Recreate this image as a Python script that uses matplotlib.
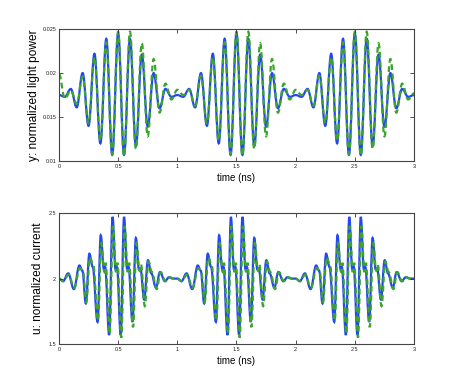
import numpy as np
import matplotlib
matplotlib.use("Agg")
import matplotlib.pyplot as plt
from matplotlib.path import Path
from matplotlib.patches import PathPatch

plt.rcParams['font.family'] = ['Liberation Sans', 'DejaVu Sans']

top_t = np.linspace(0, 3, 61)
top_blue = [
    0.0175, 0.0173, 0.0182, 0.0161, 0.0200, 0.0140, 0.0222, 0.0120, 0.0239, 0.0107,
    0.0245, 0.0107, 0.0239, 0.0117, 0.0221, 0.0139, 0.0200, 0.0160, 0.0182, 0.0173,
    0.0175, 0.0173, 0.0182, 0.0161, 0.0200, 0.0140, 0.0222, 0.0120, 0.0239, 0.0107,
    0.0245, 0.0107, 0.0239, 0.0117, 0.0221, 0.0139, 0.0200, 0.0160, 0.0182, 0.0173,
    0.0175, 0.0173, 0.0182, 0.0161, 0.0200, 0.0140, 0.0222, 0.0120, 0.0239, 0.0107,
    0.0245, 0.0107, 0.0239, 0.0117, 0.0221, 0.0139, 0.0200, 0.0160, 0.0182, 0.0173,
    0.0175,
]
top_green = [
    0.0199, 0.0171, 0.0180, 0.0165, 0.0196, 0.0143, 0.0218, 0.0123, 0.0235, 0.0108,
    0.0247, 0.0106, 0.0247, 0.0114, 0.0234, 0.0128, 0.0216, 0.0155, 0.0188, 0.0170,
    0.0181, 0.0175, 0.0181, 0.0163, 0.0197, 0.0143, 0.0218, 0.0123, 0.0235, 0.0108,
    0.0247, 0.0106, 0.0247, 0.0114, 0.0234, 0.0128, 0.0216, 0.0155, 0.0188, 0.0170,
    0.0181, 0.0175, 0.0181, 0.0163, 0.0197, 0.0143, 0.0218, 0.0123, 0.0235, 0.0108,
    0.0247, 0.0106, 0.0247, 0.0114, 0.0234, 0.0128, 0.0216, 0.0155, 0.0188, 0.0170,
    0.0177,
]

# --- bottom panel: normalized current (extrema / shoulders)
bot_blue_t = [
    0.000, 0.035, 0.078, 0.126, 0.173, 0.198, 0.227, 0.257, 0.285, 0.326, 0.353, 0.380, 0.390,
    0.424, 0.453, 0.478, 0.490, 0.522, 0.550, 0.576, 0.588, 0.621, 0.650, 0.676, 0.688, 0.720,
    0.752, 0.780, 0.820, 0.853, 0.895, 0.930, 0.965,
    1.000, 1.035, 1.078, 1.126, 1.173, 1.198, 1.227, 1.257, 1.285, 1.326, 1.353, 1.380, 1.390,
    1.424, 1.453, 1.478, 1.490, 1.522, 1.550, 1.576, 1.588, 1.621, 1.650, 1.676, 1.688, 1.720,
    1.752, 1.780, 1.820, 1.853, 1.895, 1.930, 1.965,
    2.000, 2.035, 2.078, 2.126, 2.173, 2.198, 2.227, 2.257, 2.285, 2.326, 2.353, 2.380, 2.390,
    2.424, 2.453, 2.478, 2.490, 2.522, 2.550, 2.576, 2.588, 2.621, 2.650, 2.676, 2.688, 2.720,
    2.752, 2.780, 2.820, 2.853, 2.895, 2.930, 2.965, 3.000,
]
bot_blue = [
    2.00, 1.98, 2.04, 1.92, 2.10, 2.06, 1.81, 2.19, 2.09, 1.67, 2.33, 2.07, 2.09,
    1.57, 2.47, 2.07, 2.09, 1.57, 2.47, 2.07, 2.09, 1.67, 2.31, 2.07, 2.08, 1.84,
    2.14, 2.04, 1.93, 2.05, 1.98, 2.01, 2.00,
    2.00, 1.98, 2.04, 1.92, 2.10, 2.06, 1.81, 2.19, 2.09, 1.67, 2.33, 2.07, 2.09,
    1.57, 2.47, 2.07, 2.09, 1.57, 2.47, 2.07, 2.09, 1.67, 2.31, 2.07, 2.08, 1.84,
    2.14, 2.04, 1.93, 2.05, 1.98, 2.01, 2.00,
    2.00, 1.98, 2.04, 1.92, 2.10, 2.06, 1.81, 2.19, 2.09, 1.67, 2.33, 2.07, 2.09,
    1.57, 2.47, 2.07, 2.09, 1.57, 2.47, 2.07, 2.09, 1.67, 2.31, 2.07, 2.08, 1.84,
    2.14, 2.04, 1.93, 2.05, 1.98, 2.01, 2.00, 2.00,
]
bot_green_t = [
    0.000, 0.038, 0.081, 0.129, 0.177, 0.202, 0.231, 0.261, 0.289, 0.330, 0.357, 0.384, 0.394,
    0.428, 0.457, 0.482, 0.494, 0.527, 0.555, 0.581, 0.593, 0.626, 0.655, 0.681, 0.693, 0.725,
    0.757, 0.785, 0.826, 0.858, 0.900, 0.935, 0.970,
    1.000, 1.038, 1.081, 1.129, 1.177, 1.202, 1.231, 1.261, 1.289, 1.330, 1.357, 1.384, 1.394,
    1.428, 1.457, 1.482, 1.494, 1.527, 1.555, 1.581, 1.593, 1.626, 1.655, 1.681, 1.693, 1.725,
    1.757, 1.785, 1.826, 1.858, 1.900, 1.935, 1.970,
    2.000, 2.038, 2.081, 2.129, 2.177, 2.202, 2.231, 2.261, 2.289, 2.330, 2.357, 2.384, 2.394,
    2.428, 2.457, 2.482, 2.494, 2.527, 2.555, 2.581, 2.593, 2.626, 2.655, 2.681, 2.693, 2.725,
    2.757, 2.785, 2.826, 2.858, 2.900, 2.935, 2.970, 3.000,
]
bot_green = [
    2.00, 1.98, 2.03, 1.93, 2.08, 2.06, 1.82, 2.16, 2.11, 1.68, 2.27, 2.05, 2.12,
    1.58, 2.40, 2.05, 2.12, 1.55, 2.40, 2.05, 2.12, 1.63, 2.27, 2.06, 2.11, 1.79,
    2.13, 2.05, 1.92, 2.05, 1.98, 2.01, 2.00,
    2.00, 1.98, 2.03, 1.93, 2.08, 2.06, 1.82, 2.16, 2.11, 1.68, 2.27, 2.05, 2.12,
    1.58, 2.40, 2.05, 2.12, 1.55, 2.40, 2.05, 2.12, 1.63, 2.27, 2.06, 2.11, 1.79,
    2.13, 2.05, 1.92, 2.05, 1.98, 2.01, 2.00,
    2.00, 1.98, 2.03, 1.93, 2.08, 2.06, 1.82, 2.16, 2.11, 1.68, 2.27, 2.05, 2.12,
    1.58, 2.40, 2.05, 2.12, 1.55, 2.40, 2.05, 2.12, 1.63, 2.27, 2.06, 2.11, 1.79,
    2.13, 2.05, 1.92, 2.05, 1.98, 2.01, 2.00, 2.00,
]

BLUE = '#2447f2'
GREEN = '#3aa52a'


# smooth curve through the read points (horizontal tangent at each point)
def smooth_line(ax, t, v, **kw):
    t = np.asarray(t, float)
    v = np.asarray(v, float)
    verts = [(t[0], v[0])]
    codes = [Path.MOVETO]
    for i in range(len(t) - 1):
        d = (t[i + 1] - t[i]) * 0.38
        verts += [(t[i] + d, v[i]), (t[i + 1] - d, v[i + 1]), (t[i + 1], v[i + 1])]
        codes += [Path.CURVE4] * 3
    ax.add_patch(PathPatch(Path(verts, codes), fill=False, capstyle='butt', **kw))


fig = plt.figure(figsize=(4.57, 3.88), dpi=100)
ax1 = fig.add_axes([0.129, 0.585, 0.777, 0.340])
ax2 = fig.add_axes([0.129, 0.113, 0.777, 0.338])

smooth_line(ax1, top_t, top_blue, edgecolor=BLUE, lw=1.6)
smooth_line(ax1, top_t, top_green, edgecolor=GREEN, lw=1.6, linestyle=(0, (2.6, 1.6)))
smooth_line(ax2, bot_blue_t, bot_blue, edgecolor=BLUE, lw=1.6)
smooth_line(ax2, bot_green_t, bot_green, edgecolor=GREEN, lw=1.6, linestyle=(0, (2.6, 1.6)))

ax1.set_ylim(0.01, 0.025)
ax1.set_yticks([0.01, 0.015, 0.02, 0.025])
ax1.set_yticklabels(['0.01', '0.015', '0.02', '0.025'])
ax1.set_ylabel('y: normalized light power', fontsize=8.6)
ax1.yaxis.set_label_coords(-0.052, 0.5)

ax2.set_ylim(1.5, 2.5)
ax2.set_yticks([1.5, 2, 2.5])
ax2.set_yticklabels(['1.5', '2', '2.5'])
ax2.set_ylabel('u: normalized current', fontsize=8.6)
ax2.yaxis.set_label_coords(-0.042, 0.5)

for ax in (ax1, ax2):
    ax.set_xlim(0, 3)
    ax.set_xticks([0, 0.5, 1, 1.5, 2, 2.5, 3])
    ax.set_xticklabels(['0', '0.5', '1', '1.5', '2', '2.5', '3'])
    ax.set_xlabel('time (ns)', fontsize=7, labelpad=3)
    ax.tick_params(direction='in', length=3, width=0.6, labelsize=4, pad=2,
                   top=True, right=True, colors='#333333', labelcolor='#222222')
    for s in ax.spines.values():
        s.set_linewidth(0.8)
        s.set_color('#444444')

fig.savefig('out.png', dpi=100)
